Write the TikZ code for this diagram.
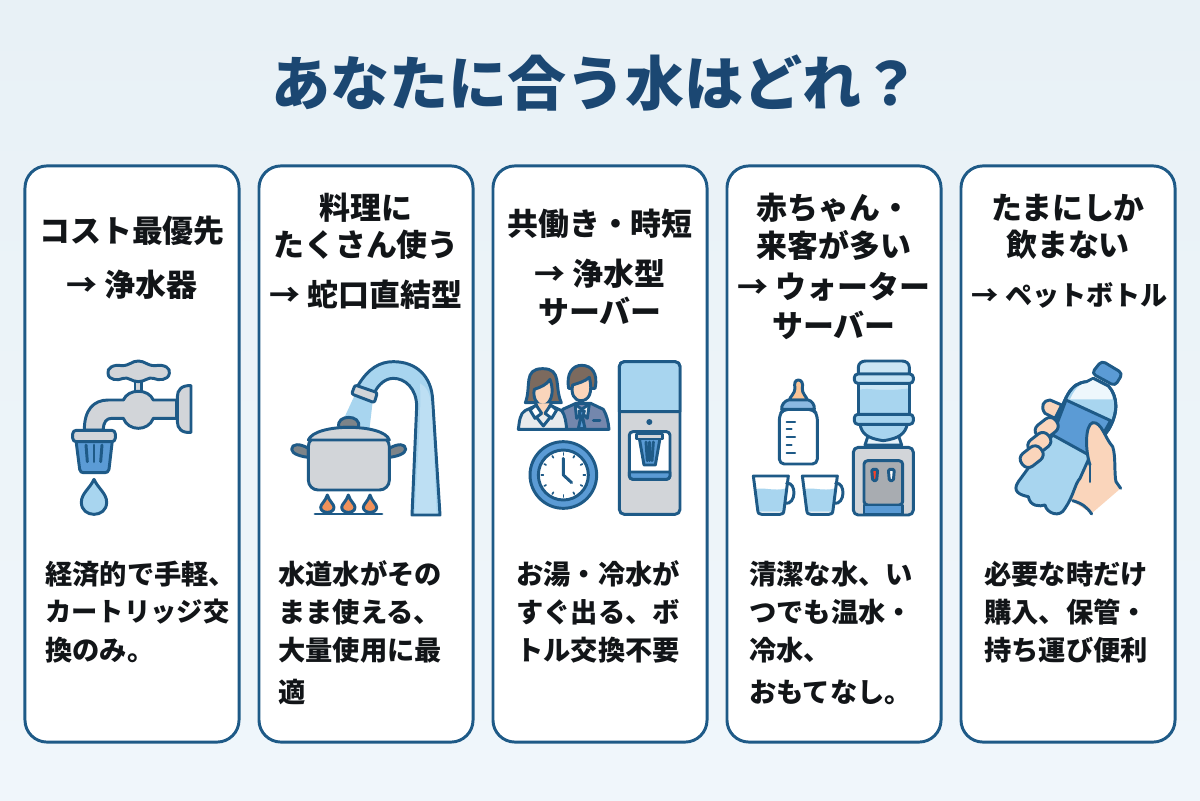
\documentclass[tikz,border=0pt]{standalone}
\usepackage{fontspec}
\usepackage{tikz}
\setmainfont{Noto Sans CJK JP}
\definecolor{pagetop}{HTML}{E8F1F6}
\definecolor{pagelow}{HTML}{F0F6FB}
\definecolor{navy}{HTML}{1E5A87}
\definecolor{titleblue}{HTML}{1B4772}
\definecolor{inkdark}{HTML}{121518}
\definecolor{paleblue}{HTML}{A8D5EF}
\definecolor{midblue}{HTML}{5B9BD5}
\definecolor{steel}{HTML}{D2D5D9}
\definecolor{darksteel}{HTML}{7D8489}
\definecolor{flame}{HTML}{F0915A}
\definecolor{skin}{HTML}{FAD5BB}
\definecolor{hair}{HTML}{7C6A5E}
\definecolor{suit}{HTML}{7487AD}
\tikzset{
	card/.style={draw=navy,fill=white,line width=2.1pt,rounded corners=0.55cm,minimum width=5.35cm,minimum height=14.4cm,inner sep=0},
	headline/.style={font=\fontsize{22pt}{22pt}\selectfont\bfseries,text=inkdark,inner sep=0,anchor=center},
	bodyline/.style={font=\fontsize{19.4pt}{20pt}\selectfont\bfseries,text=inkdark,inner sep=0,anchor=west},
	ln/.style={draw=navy,line width=2.1pt,line join=round,line cap=round},
	icon/.style={x=0.008333cm,y=-0.008333cm}
}
\begin{document}
\begin{tikzpicture}[x=0.025cm,y=-0.025cm]

	\shade[top color=pagetop,bottom color=pagelow] (0,0) rectangle (1200,800);
	\useasboundingbox (0,0) rectangle (1200,800);

	\node (title) at (596,83) {\fontsize{42pt}{42pt}\selectfont\bfseries\textcolor{titleblue}{あなたに合う水はどれ？}};

	\foreach \n/\cx in {1/132,2/366,3/600,4/834,5/1068}
		\node[card] (card\n) at (\cx,454) {};

	\node[headline] (headA1) at (132,231) {コスト最優先};
	\node[headline] (headA2) at (132,285) {→ 浄水器};
	\node[bodyline] (bodyA1) at (45,574) {経済的で手軽、};
	\node[bodyline,font=\fontsize{18.7pt}{20pt}\selectfont\bfseries] (bodyA2) at (45,612) {カートリッジ交};
	\node[bodyline] (bodyA3) at (45,650) {換のみ。};

	\node[headline] (headB1) at (366,208) {料理に};
	\node[headline] (headB2) at (366,245) {たくさん使う};
	\node[headline] (headB3) at (366,295) {→ 蛇口直結型};
	\node[bodyline] (bodyB1) at (278,574) {水道水がその};
	\node[bodyline] (bodyB2) at (278,612) {まま使える、};
	\node[bodyline] (bodyB3) at (278,650) {大量使用に最};
	\node[bodyline] (bodyB4) at (278,692) {適};

	\node[headline] (headC1) at (600,224) {共働き・時短};
	\node[headline] (headC2) at (600,274) {→ 浄水型};
	\node[headline] (headC3) at (600,311) {サーバー};
	\node[bodyline] (bodyC1) at (516,574) {お湯・冷水が};
	\node[bodyline] (bodyC2) at (516,612) {すぐ出る、ボ};
	\node[bodyline] (bodyC3) at (516,650) {トル交換不要};

	\node[headline] (headD1) at (834,208) {赤ちゃん・};
	\node[headline] (headD2) at (834,245) {来客が多い};
	\node[headline] (headD3) at (834,287) {→ ウォーター};
	\node[headline] (headD4) at (834,325) {サーバー};
	\node[bodyline] (bodyD1) at (749,574) {清潔な水、い};
	\node[bodyline] (bodyD2) at (749,612) {つでも温水・};
	\node[bodyline] (bodyD3) at (749,650) {冷水、};
	\node[bodyline] (bodyD4) at (749,692) {おもてなし。};

	\node[headline] (headE1) at (1068,208) {たまにしか};
	\node[headline] (headE2) at (1068,245) {飲まない};
	\node[headline,font=\fontsize{19.3pt}{20pt}\selectfont\bfseries] (headE3) at (1070,295) {→ ペットボトル};
	\node[bodyline] (bodyE1) at (984,574) {必要な時だけ};
	\node[bodyline] (bodyE2) at (984,612) {購入、保管・};
	\node[bodyline] (bodyE3) at (984,650) {持ち運び便利};


	\begin{scope}[shift={(40,350)},icon]
		\draw[ln,fill=steel] (285,95) rectangle (305,125);
		\draw[ln,fill=steel] (295,33) .. controls (315,33) and (320,47) .. (345,47) .. controls (375,42) and (392,55) .. (388,70) .. controls (385,92) and (355,92) .. (340,85) .. controls (325,80) and (315,95) .. (295,95) .. controls (275,95) and (265,80) .. (250,85) .. controls (235,92) and (205,92) .. (204,70) .. controls (200,55) and (220,42) .. (245,47) .. controls (270,47) and (275,33) .. (295,33) -- cycle;
		\draw[ln,fill=steel] (410,150) -- (340,150) .. controls (325,115) and (265,115) .. (250,150) -- (205,150) .. controls (160,150) and (133,180) .. (133,240) -- (190,240) .. controls (190,215) and (200,205) .. (215,205) -- (250,205) .. controls (265,245) and (325,245) .. (340,205) -- (410,205) -- cycle;
		\draw[ln,fill=steel] (453,107) .. controls (425,105) and (412,120) .. (412,140) -- (412,215) .. controls (412,235) and (425,250) .. (453,247) -- cycle;
		\draw[ln,fill=midblue] (108,272) -- (217,272) -- (207,358) .. controls (206,365) and (200,368) .. (195,368) -- (130,368) .. controls (125,368) and (120,365) .. (119,358) -- cycle;
		\foreach \sx/\ex in {138/142,162/162,186/182}
			\draw[ln] (\sx,285) -- (\ex,335);
		\draw[ln,fill=steel,rounded corners=2.5pt] (98,241) rectangle (226,275);
		\draw[ln,fill=paleblue] (162,388) .. controls (150,415) and (124,430) .. (124,457) .. controls (124,505) and (200,505) .. (200,457) .. controls (200,430) and (174,415) .. (162,388) -- cycle;
	\end{scope}


	\begin{scope}[shift={(40,350)},icon]
		\fill[paleblue] (942,140) -- (998,155) -- (988,240) -- (912,205) -- cycle;
		\draw[ln,fill=paleblue] (955,105) .. controls (985,55) and (1020,35) .. (1060,35) .. controls (1130,35) and (1175,80) .. (1178,150) -- (1200,495) -- (1116,495) -- (1130,170) .. controls (1130,115) and (1095,85) .. (1060,85) .. controls (1035,85) and (1015,105) .. (1005,125);
		\fill[white,opacity=0.25] (1140,100) .. controls (1145,200) and (1130,350) .. (1125,490) -- (1190,490) -- (1175,170) .. controls (1170,130) and (1160,110) .. (1140,100) -- cycle;
		\draw[ln,fill=steel,rounded corners=1.5pt] (945,105) -- (1012,128) -- (1003,158) -- (935,132) -- cycle;
		\draw[ln,fill=darksteel] (805,295) .. controls (780,280) and (755,280) .. (755,298) .. controls (755,312) and (785,320) .. (805,322) -- cycle;
		\draw[ln,fill=darksteel] (1048,295) .. controls (1073,280) and (1097,280) .. (1097,298) .. controls (1097,312) and (1067,320) .. (1048,322) -- cycle;
		\draw[ln,fill=darksteel] (897,232) .. controls (885,192) and (967,192) .. (955,232) -- cycle;
		\draw[ln,fill=steel,rounded corners=7pt] (805,260) -- (1048,260) -- (1048,420) -- (805,420) -- cycle;
		\draw[ln,fill=steel] (805,270) .. controls (815,245) and (870,232) .. (926,232) .. controls (985,232) and (1040,245) .. (1048,270) -- cycle;
		\foreach \fx in {862,925,990}
			\draw[ln,fill=flame] (\fx,435) .. controls (\fx-6,455) and (\fx-20,462) .. (\fx-20,472) .. controls (\fx-20,492) and (\fx+20,492) .. (\fx+20,472) .. controls (\fx+20,462) and (\fx+6,455) .. (\fx,435) -- cycle;
		\draw[ln] (825,492) -- (1026,492);
	\end{scope}


	\begin{scope}[shift={(500,350)},icon]
		\draw[ln,fill=suit] (188,238) -- (188,178) -- (228,160) -- (272,160) -- (310,178) .. controls (320,195) and (325,215) .. (327,238) -- cycle;
		\draw[ln,fill=hair] (206,115) .. controls (198,70) and (218,46) .. (245,46) .. controls (275,46) and (295,70) .. (285,115) -- cycle;
		\draw[ln,fill=skin] (218,105) .. controls (232,100) and (255,95) .. (268,82) .. controls (280,130) and (265,152) .. (243,152) .. controls (222,152) and (212,130) .. (218,105) -- cycle;
		\draw[ln,fill=white] (225,162) -- (245,178) -- (268,162) -- (262,205) -- (245,188) -- (230,205) -- cycle;
		\draw[ln,fill=midblue] (237,183) -- (253,183) -- (248,203) -- (255,236) -- (235,236) -- (242,203) -- cycle;
		\draw[ln] (280,212) -- (300,212);
		\draw[ln,fill=steel!50] (55,238) .. controls (58,215) and (60,190) .. (75,182) -- (105,168) -- (155,168) -- (185,182) .. controls (195,195) and (198,215) .. (200,238) -- cycle;
		\draw[ln,fill=hair] (76,158) .. controls (95,110) and (68,56) .. (128,56) .. controls (188,56) and (162,110) .. (184,158) -- cycle;
		\draw[ln,fill=skin] (103,118) .. controls (120,112) and (140,105) .. (150,88) .. controls (166,130) and (150,166) .. (128,166) .. controls (108,166) and (98,140) .. (103,118) -- cycle;
		\fill[skin] (112,160) -- (148,160) -- (130,198) -- cycle;
		\draw[ln] (100,190) -- (130,228) -- (160,190);
		\draw[ln,fill=white] (108,165) -- (125,190) -- (105,205) -- (90,180) -- cycle;
		\draw[ln,fill=white] (152,165) -- (135,190) -- (155,205) -- (170,180) -- cycle;
		\draw[ln,fill=midblue] (190,375) circle[radius=100];
		\draw[ln,fill=white] (190,375) circle[radius=75];
		\foreach \t in {0,30,...,330}
			\draw[ln,line width=1.2pt] ({190+66*cos(\t)},{375+66*sin(\t)}) -- ({190+60*cos(\t)},{375+60*sin(\t)});
		\draw[ln] (190,325) -- (190,375) -- (215,398);
	\end{scope}


	\begin{scope}[shift={(500,350)},icon]
		\draw[ln,fill=steel,rounded corners=3.5pt] (358,35) rectangle (540,493);
		\draw[ln,fill=paleblue] (358,185) [rounded corners=3.5pt] -- (358,35) -- (540,35) [sharp corners] -- (540,185) -- cycle;
		\fill[navy] (448,216) circle[radius=9];
		\draw[ln,fill=white,rounded corners=2.5pt] (388,245) rectangle (510,388);
		\draw[ln,fill=midblue] (388,366) -- (510,366) [rounded corners=2.5pt] -- (510,388) -- (388,388) [sharp corners] -- cycle;
		\draw[ln,fill=midblue] (418,265) -- (480,265) -- (466,345) -- (432,345) -- cycle;
		\foreach \sx/\ex in {438/442,449/449,460/456}
			\draw[ln] (\sx,276) -- (\ex,332);
		\draw[ln,fill=steel] (410,252) rectangle (487,267);
	\end{scope}


	\begin{scope}[shift={(500,350)},icon]
		\draw[ln,fill=skin!80!orange] (895,90) .. controls (885,90) and (882,100) .. (885,115) .. controls (885,130) and (870,140) .. (868,150) -- (922,150) .. controls (920,140) and (905,130) .. (907,115) .. controls (910,100) and (905,90) .. (895,90) -- cycle;
		\draw[ln,fill=white,rounded corners=3.5pt] (850,178) -- (940,178) -- (952,195) -- (952,342) -- (838,342) -- (838,195) -- cycle;
		\draw[ln,fill=midblue!70] (865,150) -- (925,150) .. controls (935,152) and (945,165) .. (943,178) -- (845,178) .. controls (843,165) and (855,152) .. (865,150) -- cycle;
		\foreach \ly/\lw in {215/885,238/875,262/885,285/875,308/885}
			\draw[ln,line width=1.5pt] (860,\ly) -- (\lw,\ly);

		\draw[ln,fill=steel,rounded corners=3.5pt] (1060,292) rectangle (1240,495);
		\draw[ln,fill=white!70!paleblue] (1105,255) -- (1195,255) -- (1205,285) -- (1095,285) -- cycle;
		\draw[ln,fill=darksteel!50!steel,rounded corners=2.5pt] (1092,332) rectangle (1208,465);
		\draw[ln,fill=midblue] (1092,465) rectangle (1208,493);
		\draw[ln,fill=red!55!flame,rounded corners=1pt] (1115,358) -- (1133,358) -- (1130,392) -- (1118,392) -- cycle;
		\draw[ln,fill=white,rounded corners=1pt] (1165,358) -- (1183,358) -- (1180,392) -- (1168,392) -- cycle;
		\draw[ln,fill=paleblue] (1080,223) .. controls (1085,250) and (1100,265) .. (1150,272) .. controls (1200,265) and (1215,250) .. (1222,223) -- cycle;
		\fill[paleblue!60] (1075,100) -- (1075,193) -- (1228,193) -- (1228,100) -- cycle;
		\fill[paleblue] (1075,120) .. controls (1110,110) and (1130,128) .. (1228,115) -- (1228,195) -- (1075,195) -- cycle;
		\draw[ln] (1075,100) -- (1075,195) (1228,100) -- (1228,195);
		\draw[ln,fill=paleblue!60] (1075,72) -- (1075,52) .. controls (1075,40) and (1085,33) .. (1097,33) -- (1206,33) .. controls (1218,33) and (1228,40) .. (1228,52) -- (1228,72) -- cycle;
		\draw[ln,fill=paleblue!70,rounded corners=2.5pt] (1063,72) rectangle (1240,100);
		\draw[ln,fill=paleblue,rounded corners=2.5pt] (1063,193) rectangle (1240,223);

		\foreach \sh in {0,147} {
			\begin{scope}[xshift=\sh*0.008333cm]
				\draw[ln] (860,400) .. controls (890,395) and (890,465) .. (855,460);
				\fill[paleblue] (764,418) .. controls (790,410) and (820,425) .. (860,415) -- (850,485) -- (778,485) -- cycle;
				\draw[ln] (760,378) -- (865,378) -- (852,480) .. controls (851,490) and (848,493) .. (840,493) -- (785,493) .. controls (777,493) and (774,490) .. (773,480) -- cycle;
			\end{scope}
		}
	\end{scope}


	\begin{scope}[shift={(990,350)},icon]
		\fill[skin] (315,220) -- (370,290) -- (378,395) -- (392,415) -- (305,490) -- (240,450) -- (280,350) -- cycle;
		\draw[ln,fill=skin] (180,150) .. controls (160,150) and (150,170) .. (165,190) -- (195,205) -- (215,165) -- cycle;
		\draw[ln,fill=paleblue] (290,95) .. controls (240,100) and (225,135) .. (188,255) -- (85,395) .. controls (65,425) and (90,435) .. (115,440) .. controls (120,470) and (150,470) .. (165,465) .. controls (170,490) and (210,505) .. (225,475) .. controls (250,440) and (255,400) .. (270,385) -- (300,318) -- (355,240) .. controls (385,190) and (385,140) .. (355,108) -- (310,85) -- cycle;
		\fill[white!80!paleblue] (295,98) -- (312,88) -- (355,112) .. controls (362,125) and (366,135) .. (368,148) -- (240,148) .. controls (255,115) and (270,100) .. (295,98) -- cycle;
		\draw[ln] (290,95) .. controls (240,100) and (225,135) .. (188,255);
		\draw[ln] (310,85) -- (355,108) .. controls (385,140) and (385,190) .. (355,240);
		\draw[ln,fill=midblue] (228,150) -- (362,212) -- (302,318) -- (188,255) -- cycle;
		\draw[ln,fill=midblue,rounded corners=3pt] (335,32) -- (398,70) -- (375,108) -- (305,70) -- cycle;
		\foreach \fx/\fy in {170/235,148/280,125/320}
			\draw[ln,fill=skin,rounded corners=5pt,rotate around={38:(\fx,\fy)}] (\fx-36,\fy-24) rectangle (\fx+36,\fy+24);
		\draw[ln,fill=skin] (300,345) .. controls (285,300) and (285,225) .. (308,218) .. controls (335,215) and (345,265) .. (368,290) .. controls (378,320) and (372,370) .. (378,395) -- (392,415);
		\draw[ln] (248,452) .. controls (275,460) and (290,470) .. (305,492);
		\draw[ln] (300,345) -- (300,395);
	\end{scope}

\end{tikzpicture}
\end{document}
